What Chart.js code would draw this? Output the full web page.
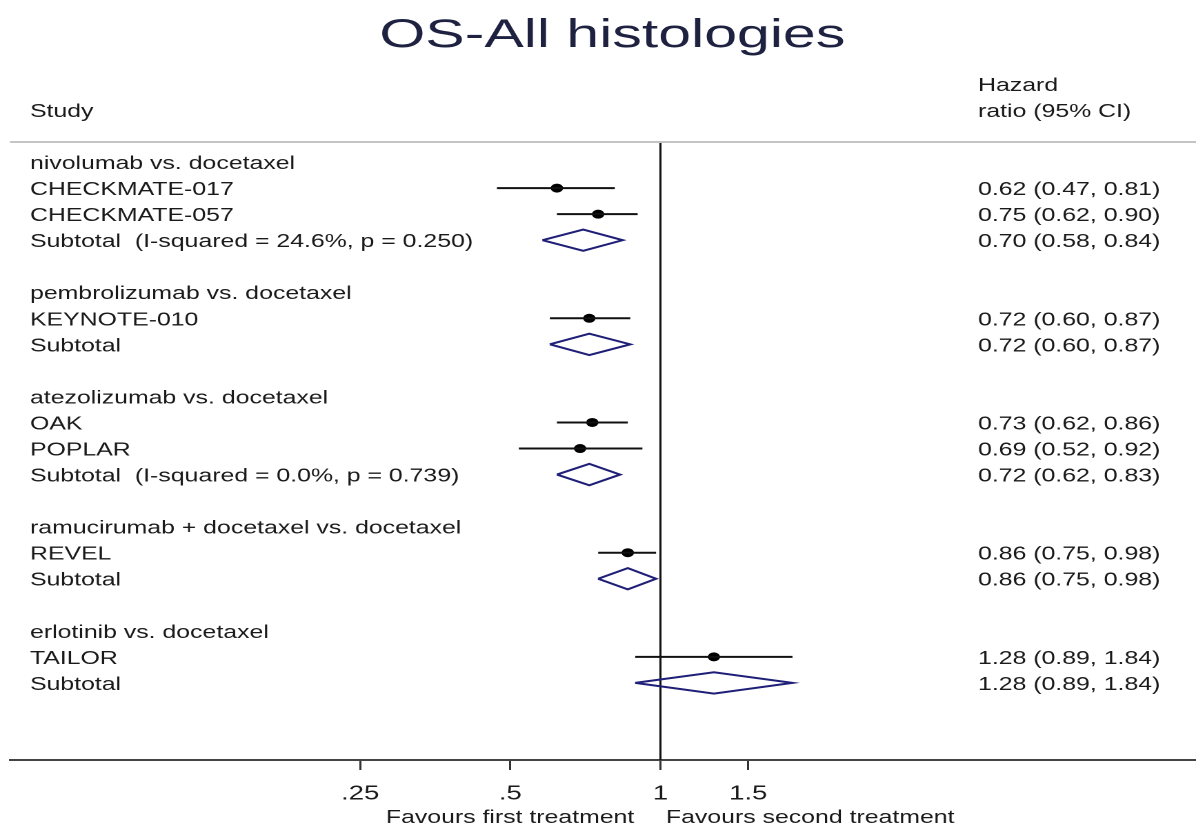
<!DOCTYPE html>
<html>
<head>
<meta charset="utf-8">
<title>OS-All histologies</title>
<script src="https://cdn.jsdelivr.net/npm/chart.js@4.4.1/dist/chart.umd.min.js"></script>
<style>
  html, body { margin: 0; padding: 0; background: #fff; overflow: hidden; }
  /* the source picture is stretched sideways, so the whole chart is too.
     a few extra px on the right: Chart.js keeps ~5px free there */
  #wrap {
    width: 872px;
    height: 824px;
    transform: scaleX(1.3795);
    transform-origin: 0 0;
  }
</style>
</head>
<body>
<div id="wrap"><canvas id="forest"></canvas></div>
<script>
// Rows of the forest plot, top to bottom
const rowLabels = [
  "nivolumab vs. docetaxel", "CHECKMATE-017", "CHECKMATE-057", "Subtotal  (I-squared = 24.6%, p = 0.250)", "",
  "pembrolizumab vs. docetaxel", "KEYNOTE-010", "Subtotal", "",
  "atezolizumab vs. docetaxel", "OAK", "POPLAR", "Subtotal  (I-squared = 0.0%, p = 0.739)", "",
  "ramucirumab + docetaxel vs. docetaxel", "REVEL", "Subtotal", "",
  "erlotinib vs. docetaxel", "TAILOR", "Subtotal"
];
const rowKind = [
  "group", "study", "study", "subtotal", "",
  "group", "study", "subtotal", "",
  "group", "study", "study", "subtotal", "",
  "group", "study", "subtotal", "",
  "group", "study", "subtotal"
];
const hazardRatio = [null, 0.62, 0.75, 0.70, null, null, 0.72, 0.72, null, null, 0.73, 0.69, 0.72, null, null, 0.86, 0.86, null, null, 1.28, 1.28];
const ciLow =       [null, 0.47, 0.62, 0.58, null, null, 0.60, 0.60, null, null, 0.62, 0.52, 0.62, null, null, 0.75, 0.75, null, null, 0.89, 0.89];
const ciHigh =      [null, 0.81, 0.90, 0.84, null, null, 0.87, 0.87, null, null, 0.86, 0.92, 0.83, null, null, 0.98, 0.98, null, null, 1.84, 1.84];

const xTicks = [0.25, 0.5, 1, 1.5];
const xTickLabels = [".25", ".5", "1", "1.5"];

const FONT = "'Liberation Sans', Arial, sans-serif";
const TEXT_COLOR = "#1a1a1a";
const DIAMOND_COLOR = "#1f1f78";

// Build line data: CI whiskers and pooled diamonds, gaps between them
const ciLines = [];
const diamonds = [];
const points = [];
rowKind.forEach((kind, i) => {
  if (kind === "study") {
    ciLines.push({ x: ciLow[i], y: i }, { x: ciHigh[i], y: i }, { x: ciHigh[i], y: null });
    points.push({ x: hazardRatio[i], y: i });
  } else if (kind === "subtotal") {
    const h = 0.41;
    diamonds.push(
      { x: ciLow[i], y: i },
      { x: hazardRatio[i], y: i - h },
      { x: ciHigh[i], y: i },
      { x: hazardRatio[i], y: i + h },
      { x: ciLow[i], y: i },
      { x: ciLow[i], y: null }
    );
  }
});

function fmt(v) { return v.toFixed(2); }

// Title, column headers, row text and the no-effect line
const forestText = {
  id: "forestText",
  beforeDatasetsDraw(chart) {
    const { ctx, chartArea, scales: { x } } = chart;
    const x1 = x.getPixelForValue(1);
    ctx.save();
    ctx.strokeStyle = "#111";
    ctx.lineWidth = 1.5;
    ctx.beginPath();
    ctx.moveTo(x1, chartArea.top);
    ctx.lineTo(x1, chartArea.bottom);
    ctx.stroke();
    ctx.restore();
  },
  afterDraw(chart) {
    const { ctx, chartArea, scales: { x, y } } = chart;
    const textX = chartArea.left + 14.5;
    const valueX = 709;
    const dy = 2; // canvas "middle" sits a bit high
    ctx.save();

    // title
    ctx.save();
    ctx.translate((chartArea.left + chartArea.right) / 2 + 6.5, 36);
    ctx.scale(1.07, 1);
    ctx.fillStyle = "#1e2140";
    ctx.font = "40px " + FONT;
    ctx.textAlign = "center";
    ctx.textBaseline = "middle";
    ctx.fillText("OS-All histologies", 0, 0);
    ctx.restore();

    // header rule
    ctx.strokeStyle = "#c4c4c4";
    ctx.lineWidth = 2;
    ctx.beginPath();
    ctx.moveTo(chartArea.left, chartArea.top);
    ctx.lineTo(chartArea.right, chartArea.top);
    ctx.stroke();

    ctx.fillStyle = TEXT_COLOR;
    ctx.font = "18px " + FONT;
    ctx.textBaseline = "middle";
    ctx.textAlign = "left";
    ctx.fillText("Study", textX, y.getPixelForValue(-2) + dy);
    ctx.fillText("Hazard", valueX, y.getPixelForValue(-3) + dy);
    ctx.fillText("ratio (95% CI)", valueX, y.getPixelForValue(-2) + dy);

    rowLabels.forEach((label, i) => {
      const py = y.getPixelForValue(i) + dy;
      if (label) ctx.fillText(label, textX, py);
      if (hazardRatio[i] !== null) {
        ctx.fillText(fmt(hazardRatio[i]) + " (" + fmt(ciLow[i]) + ", " + fmt(ciHigh[i]) + ")", valueX, py);
      }
    });

    // favours labels under the axis
    const x1 = x.getPixelForValue(1);
    ctx.textBaseline = "alphabetic";
    ctx.textAlign = "right";
    ctx.fillText("Favours first treatment", x1 - 19, 823);
    ctx.textAlign = "left";
    ctx.fillText("Favours second treatment", x1 + 4, 823);
    ctx.restore();
  }
};

new Chart(document.getElementById("forest"), {
  type: "scatter",
  data: {
    datasets: [
      {
        label: "95% CI",
        data: ciLines,
        showLine: true,
        spanGaps: false,
        borderColor: "#111",
        borderWidth: 2,
        pointRadius: 0,
        fill: false
      },
      {
        label: "Subtotal",
        data: diamonds,
        showLine: true,
        spanGaps: false,
        borderColor: DIAMOND_COLOR,
        borderWidth: 2,
        pointRadius: 0,
        fill: false
      },
      {
        label: "Hazard ratio",
        data: points,
        pointStyle: "circle",
        pointRadius: 4.5,
        backgroundColor: "#000",
        borderColor: "#000",
        borderWidth: 0
      }
    ]
  },
  options: {
    responsive: true,
    maintainAspectRatio: false,
    animation: false,
    devicePixelRatio: 2,
    layout: { padding: { top: 142, left: 7.25, right: 0, bottom: 0 } },
    plugins: {
      legend: { display: false },
      tooltip: { enabled: false },
      title: { display: false }
    },
    scales: {
      x: {
        type: "logarithmic",
        bounds: "data",
        min: 0.0496,
        max: 11.9,
        afterBuildTicks: (scale) => {
          scale.ticks = xTicks.map(v => ({ value: v }));
        },
        afterFit: (scale) => {
          scale.height = 64;
          scale.paddingLeft = 0;
          scale.paddingRight = 0;
        },
        border: { display: true, color: "#444", width: 2 },
        grid: {
          drawOnChartArea: false,
          drawTicks: true,
          tickLength: 10,
          color: "#333",
          lineWidth: 1.5
        },
        ticks: {
          autoSkip: false,
          maxRotation: 0,
          padding: 12,
          color: TEXT_COLOR,
          font: { family: FONT, size: 20 },
          callback: (v) => xTickLabels[xTicks.indexOf(v)]
        }
      },
      y: {
        type: "linear",
        reverse: true,
        min: -0.77,
        max: 22.96,
        display: false
      }
    }
  },
  plugins: [forestText]
});
</script>
</body>
</html>
